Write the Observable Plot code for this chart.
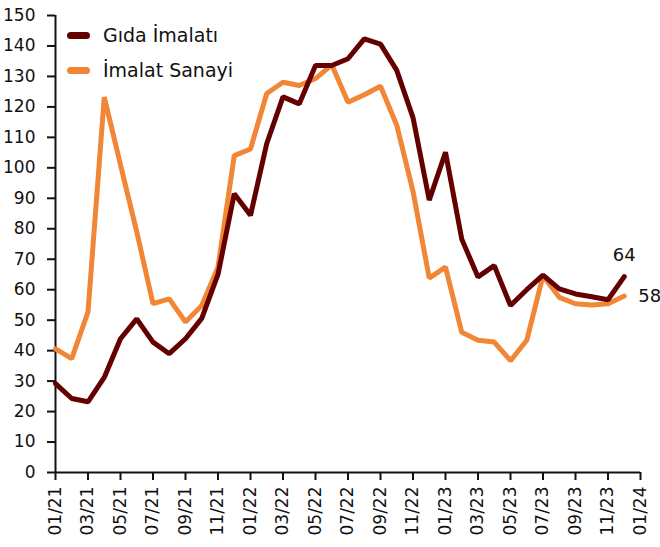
<!DOCTYPE html>
<html><head><meta charset="utf-8">
<script src="https://cdn.jsdelivr.net/npm/d3@7"></script>
<script src="https://cdn.jsdelivr.net/npm/@observablehq/plot@0.6"></script>
<style>
body{margin:0;background:#fff;}
#wrap{position:relative;width:660px;height:547px;font-family:"DejaVu Sans",sans-serif;}
.leg{position:absolute;left:67px;font-size:19px;color:#111;display:flex;align-items:center;line-height:22px;}
.sw{width:23px;height:7px;border-radius:4px;margin-right:13px;}
</style></head><body>
<div id="wrap"></div>
<script>
const months = ["01/21","02/21","03/21","04/21","05/21","06/21","07/21","08/21","09/21","10/21","11/21","12/21",
"01/22","02/22","03/22","04/22","05/22","06/22","07/22","08/22","09/22","10/22","11/22","12/22",
"01/23","02/23","03/23","04/23","05/23","06/23","07/23","08/23","09/23","10/23","11/23","12/23"];
const tickLabels = ["01/21","03/21","05/21","07/21","09/21","11/21","01/22","03/22","05/22","07/22","09/22","11/22","01/23","03/23","05/23","07/23","09/23","11/23","01/24"];
const gida = [29.2,24.3,23.2,31.2,43.9,50.4,42.8,39,43.9,50.6,65,91.5,84.4,108,123.3,121,133.6,133.6,135.8,142.3,140.6,132,116.5,89.4,105.1,76.6,64.2,67.9,54.8,60,64.8,60.3,58.6,57.7,56.7,64.3];
const imalat = [40.6,37.4,52.7,123.2,101,79,55.4,57,49.4,54.8,67.4,104,106.2,124.4,128.1,127,129.3,133.8,121.5,124,126.8,114,92.3,63.8,67.4,46,43.4,42.8,36.7,43.4,64.6,57.5,55.4,55,55.4,57.9];
const seriesNames = ["Gıda İmalatı","İmalat Sanayi"];
const colors = ["#650000","#F08636"];
const endLabels = ["64","58"];

const rows = [];
months.forEach((m,i)=>{ rows.push({i, v:gida[i], s:seriesNames[0]}); rows.push({i, v:imalat[i], s:seriesNames[1]}); });
const last = months.length-1;

const chart = Plot.plot({
  width:660, height:547,
  marginLeft:55, marginRight:20, marginTop:15, marginBottom:75,
  style:{fontFamily:"DejaVu Sans, sans-serif", fontSize:"17px", color:"#111", background:"#fff"},
  x:{type:"linear", domain:[0,36], ticks:d3.range(0,37,2), tickFormat:d=>tickLabels[d/2], tickRotate:-90, tickSize:8, tickPadding:6, label:null},
  y:{domain:[0,150], ticks:d3.range(0,151,10), tickSize:8, tickPadding:12, label:null},
  color:{domain:seriesNames, range:colors},
  marks:[
    Plot.ruleX([0],{stroke:"#111", strokeWidth:2}),
    Plot.ruleY([0],{stroke:"#111", strokeWidth:2}),
    Plot.line(rows.filter(d=>d.s===seriesNames[1]),{x:"i", y:"v", stroke:"s", strokeWidth:5, strokeLinejoin:"miter"}),
    Plot.line(rows.filter(d=>d.s===seriesNames[0]),{x:"i", y:"v", stroke:"s", strokeWidth:5, strokeLinejoin:"miter"}),
    Plot.text([{i:last, v:gida[last], t:endLabels[0]}],{x:"i", y:"v", text:"t", dy:-21, fontSize:18, fill:"#111"}),
    Plot.text([{i:last, v:imalat[last], t:endLabels[1]}],{x:"i", y:"v", text:"t", dx:14, textAnchor:"start", fontSize:18, fill:"#111"})
  ]
});
const wrap = document.getElementById("wrap");
wrap.appendChild(chart);
chart.querySelectorAll('[aria-label="x-axis tick"] path, [aria-label="y-axis tick"] path').forEach(p=>{p.setAttribute("stroke-width","2");});
chart.querySelectorAll('[aria-label="x-axis tick"], [aria-label="y-axis tick"]').forEach(g=>{g.setAttribute("stroke","#111");});
seriesNames.forEach((n,k)=>{
  const d = document.createElement("div");
  d.className="leg"; d.style.top=(24+k*35)+"px";
  d.innerHTML = `<span class="sw" style="background:${colors[k]}"></span><span>${n}</span>`;
  wrap.appendChild(d);
});
</script></body></html>
